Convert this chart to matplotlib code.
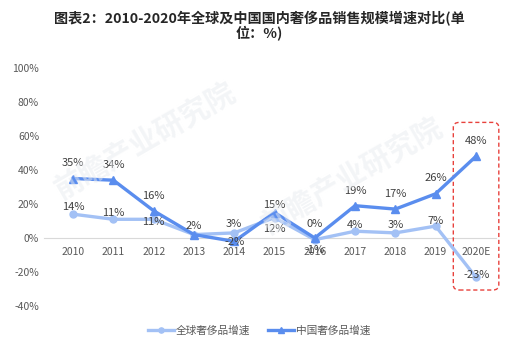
import matplotlib
matplotlib.use("Agg")
import matplotlib.pyplot as plt
from matplotlib.patches import FancyBboxPatch

plt.rcParams['font.family'] = ['Noto Sans CJK SC', 'DejaVu Sans']

years = ["2010", "2011", "2012", "2013", "2014", "2015", "2016", "2017", "2018", "2019", "2020E"]
global_growth = [14, 11, 11, 2, 3, 12, -1, 4, 3, 7, -23]
china_growth = [35, 34, 16, 2, -2, 15, 0, 19, 17, 26, 48]
yticks = [-40, -20, 0, 20, 40, 60, 80, 100]

c_global = "#A3C1F5"
c_china = "#5A8DEE"
txt = "#404040"

fig = plt.figure(figsize=(5.18, 3.5), dpi=100)
ax = fig.add_axes([53/518, 1 - 306/350, (496-53)/518, (306-68)/350])

x = list(range(len(years)))
ax.plot(x, global_growth, color=c_global, lw=2.4, marker='o', ms=5, label="全球奢侈品增速", zorder=3)
ax.plot(x, china_growth, color=c_china, lw=2.4, marker='^', ms=6, label="中国奢侈品增速", zorder=4)

ax.set_xlim(-0.5, len(years) - 0.5)
ax.set_ylim(-40, 100)
ax.set_yticks(yticks)
ax.set_yticklabels([f"{v}%" for v in yticks], color="#595959", fontsize=7.5)
ax.set_xticks([])
for s in ax.spines.values():
    s.set_visible(False)
ax.tick_params(axis='y', length=0, pad=10)
ax.axhline(0, xmin=-0.02, xmax=1.0, color="#D9D9D9", lw=0.8, zorder=1, clip_on=False)
for i, y in enumerate(years):
    ax.annotate(y, (i, 0), xytext=(0, -14), textcoords='offset pixels',
                ha='center', va='center', fontsize=7.5, color="#595959")

# data label offsets in pixels (dx, dy)
china_off = [(0, 16), (0, 15), (0, 15), (0, 9), (0, -1), (0, 8), (0, 14), (0, 15), (0, 15), (0, 16), (0, 15)]
global_off = [(0, 7), (0, 6), (0, -3), None, (0, 9), (0, -11), (0, -10), (0, 6), (0, 8), (0, 5), (1, 2)]
for i, v in enumerate(china_growth):
    dx, dy = china_off[i]
    ax.annotate(f"{v}%", (i, v), xytext=(dx, dy), textcoords='offset pixels',
                ha='center', va='center', fontsize=8, color=txt, zorder=6)
for i, v in enumerate(global_growth):
    if global_off[i] is None:
        continue
    dx, dy = global_off[i]
    ax.annotate(f"{v}%", (i, v), xytext=(dx, dy), textcoords='offset pixels',
                ha='center', va='center', fontsize=8, color=txt, zorder=6)

# highlight box around 2020E
box = FancyBboxPatch((9.44, -30.6), 1.13, 98.6, boxstyle="round,pad=0,rounding_size=0.15",
                     fill=False, ec="#E8413C", ls=(0, (3, 2)), lw=1.0,
                     mutation_aspect=20, zorder=2, clip_on=False)
ax.add_patch(box)

# watermark
for (wx, wy) in [(0.28, 0.60), (0.68, 0.50)]:
    fig.text(wx, wy, "前瞻产业研究院", fontsize=21, color="#E8EBEF", rotation=30,
             ha='center', va='center', alpha=0.5, zorder=0, fontweight='bold')

fig.text(0.5, 1 - 19/350, "图表2：2010-2020年全球及中国国内奢侈品销售规模增速对比(单",
         ha='center', va='center', fontsize=10.2, fontweight='bold', color="#262626")
fig.text(0.5, 1 - 33.5/350, "位：%)", ha='center', va='center', fontsize=10.2,
         fontweight='bold', color="#262626")

leg = fig.legend(loc='center', bbox_to_anchor=(0.5, 1 - 331/350), ncol=2, frameon=False,
                 fontsize=7.7, handlelength=2.5, columnspacing=1.6, handletextpad=0.15,
                 markerscale=0.75)
for t in leg.get_texts():
    t.set_color("#595959")

fig.savefig("out.png", dpi=100)
